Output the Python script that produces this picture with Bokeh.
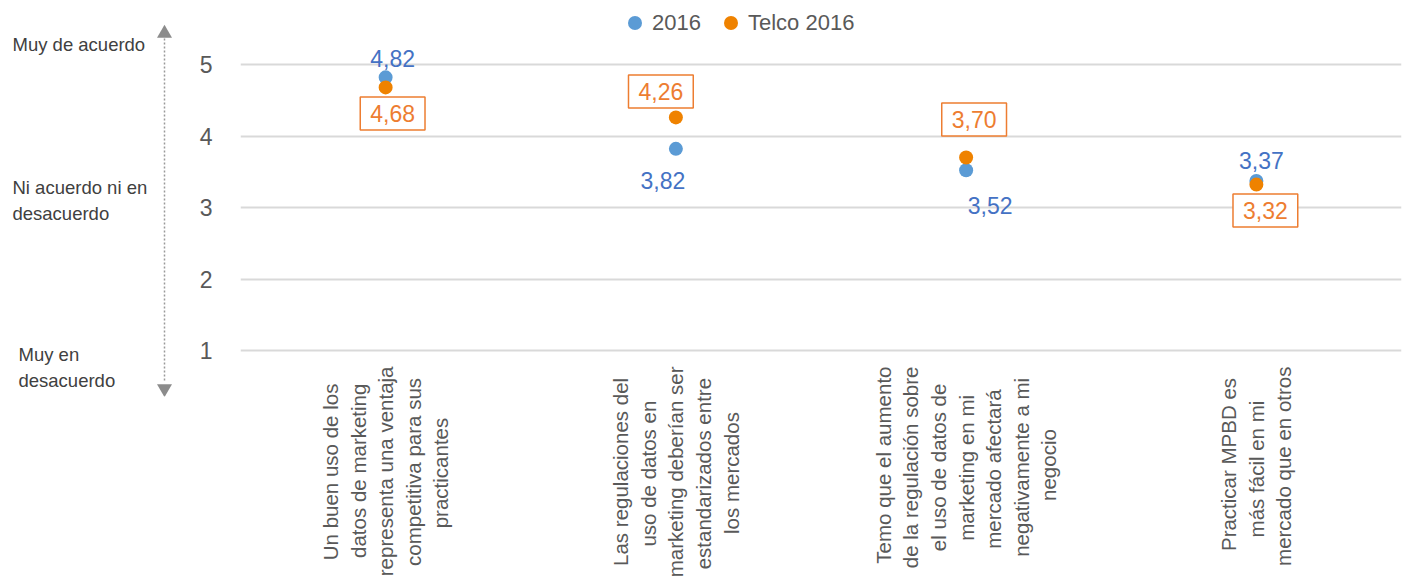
import math
from bokeh.plotting import figure
from bokeh.layouts import row
from bokeh.models import (FactorRange, Range1d, FixedTicker, Legend, LegendItem,
                          ColumnDataSource)
from bokeh.core.properties import value
from bokeh.embed import file_html
from bokeh.resources import INLINE

# ---------------- data ----------------
categories = [
    "Un buen uso de los\ndatos de marketing\nrepresenta una ventaja\ncompetitiva para sus\npracticantes",
    "Las regulaciones del\nuso de datos en\nmarketing deberían ser\nestandarizados entre\nlos mercados",
    "Temo que el aumento\nde la regulación sobre\nel uso de datos de\nmarketing en mi\nmercado afectará\nnegativamente a mi\nnegocio",
    "Practicar MPBD es\nmás fácil en mi\nmercado que en otros",
]
series_names = ["2016", "Telco 2016"]
values_2016 = [4.82, 3.82, 3.52, 3.37]
values_telco = [4.68, 4.26, 3.70, 3.32]
y_ticks = [1, 2, 3, 4, 5]
scale_texts = ["Muy de acuerdo", "Ni acuerdo ni en\ndesacuerdo", "Muy en\ndesacuerdo"]

# ---------------- styles ----------------
FONT = "Liberation Sans"
BLUE = "#5B9BD5"
BLUE_TXT = "#4472C4"
ORANGE = "#EF8200"
ORANGE_TXT = "#ED7D31"
GRAY = "#595959"

# label offsets (pixels, screen: +y is down)
off_2016_x = [7, -13, 24, 5]
off_2016_y = [-19, 32, 35, -21]
off_telco_x = [7, -15, 8, 9]
off_telco_y = [26, -26, -38, 26]

# positions of the left scale texts (page pixels)
scale_x = [12, 12, 18]
scale_y = [44, 200, 367]

H = 582
FRAME_H = 396          # frame bottom (page px)
AXIS_Y1 = 350          # page px of value 1
PX_PER_UNIT = 71.5

# Arial / Liberation Sans advance widths (1/1000 em) used to centre rotated lines
_W = {" ": 278, "a": 556, "b": 556, "c": 500, "d": 556, "e": 556, "f": 278, "g": 556,
      "h": 556, "i": 222, "j": 222, "k": 500, "l": 222, "m": 833, "n": 556, "o": 556,
      "p": 556, "q": 556, "r": 333, "s": 500, "t": 278, "u": 556, "v": 500, "w": 722,
      "x": 500, "y": 500, "z": 500, "á": 556, "é": 556, "í": 278, "ó": 556,
      "B": 667, "D": 722, "L": 556, "M": 833, "P": 667, "T": 611, "U": 722}


def _tw(s):
    return sum(_W.get(c, 556) for c in s)


def centre_lines(label):
    lines = label.split("\n")
    m = max(_tw(l) for l in lines)
    return "\n".join(l + "\u00a0" * round((m - _tw(l)) / 2 / 278) for l in lines)


factors = [centre_lines(c) for c in categories]


def fmt(v):
    return f"{v:.2f}".replace(".", ",")


src_2016 = ColumnDataSource(dict(x=factors, y=values_2016,
                                 lbl=[fmt(v) for v in values_2016],
                                 xo=off_2016_x, yo=off_2016_y))
src_telco = ColumnDataSource(dict(x=factors, y=values_telco,
                                  lbl=[fmt(v) for v in values_telco],
                                  xo=off_telco_x, yo=off_telco_y))

# ---------------- left panel: agreement scale ----------------
left = figure(width=180, height=H, x_range=Range1d(0, 180), y_range=Range1d(FRAME_H, 0),
              x_axis_type=None, y_axis_type=None, output_backend="svg",
              toolbar_location=None, min_border=0,
              min_border_bottom=H - FRAME_H)
left.outline_line_color = None
left.grid.visible = False
left.text(x=scale_x, y=scale_y, text=scale_texts, text_font=value(FONT),
          text_font_size="18.5px", text_color="#404040", text_align="left",
          text_baseline="middle", text_line_height=1.25)
left.segment(x0=[164], y0=[38], x1=[164], y1=[382], line_color="#9A9A9A",
             line_width=1.5, line_dash="2 2")
left.scatter(x=[164], y=[33], marker="triangle", size=15,
             fill_color="#8C8C8C", line_color=None)
left.scatter(x=[164], y=[388], marker="inverted_triangle", size=15,
             fill_color="#8C8C8C", line_color=None)

# ---------------- main chart ----------------
p = figure(x_range=FactorRange(*factors, range_padding=0),
           y_range=Range1d(1 - (FRAME_H - AXIS_Y1) / PX_PER_UNIT, 1 + AXIS_Y1 / PX_PER_UNIT),
           width=1227, height=H,
           output_backend="svg", toolbar_location=None,
           min_border_left=60, min_border_right=6,
           min_border_top=0, min_border_bottom=H - FRAME_H)
p.outline_line_color = None

p.yaxis.ticker = FixedTicker(ticks=y_ticks)
p.yaxis.axis_line_color = None
p.yaxis.major_tick_line_color = None
p.yaxis.minor_tick_line_color = None
p.yaxis.major_label_text_font = FONT
p.yaxis.major_label_text_font_size = "23px"
p.yaxis.major_label_text_color = GRAY
p.yaxis.major_label_standoff = 22

p.xaxis.axis_line_color = None
p.xaxis.major_tick_line_color = None
p.xaxis.minor_tick_line_color = None
p.xaxis.major_label_text_font = FONT
p.xaxis.major_label_text_font_size = "20.5px"
p.xaxis.major_label_text_color = GRAY
p.xaxis.major_label_orientation = math.pi / 2
p.xaxis.major_label_standoff = -36
p.xaxis.major_label_text_line_height = 1.2

p.xgrid.grid_line_color = None
p.ygrid.grid_line_color = "#D9D9D9"
p.ygrid.grid_line_width = 2

r1 = p.scatter(x="x", y="y", source=src_2016, size=14, fill_color=BLUE, line_color=None)
r2 = p.scatter(x="x", y="y", source=src_telco, size=14, fill_color=ORANGE, line_color=None)

p.text(x="x", y="y", text="lbl", source=src_2016, x_offset="xo", y_offset="yo",
       text_font=value(FONT), text_font_size="23px", text_color=BLUE_TXT,
       text_align="center", text_baseline="middle")
p.text(x="x", y="y", text="lbl", source=src_telco, x_offset="xo", y_offset="yo",
       text_font=value(FONT), text_font_size="23px", text_color=ORANGE_TXT,
       text_align="center", text_baseline="middle",
       background_fill_color="white", border_line_color=ORANGE_TXT,
       border_line_width=1.5, padding=(10, 8))

legend = Legend(items=[LegendItem(label=series_names[0], renderers=[r1]),
                       LegendItem(label=series_names[1], renderers=[r2])],
                orientation="horizontal", location=(377, FRAME_H - 40),
                border_line_color=None, background_fill_alpha=0,
                label_text_font=FONT, label_text_font_size="22px",
                label_text_color=GRAY, glyph_width=35, glyph_height=35,
                label_standoff=0, spacing=12, padding=2, margin=0)
p.add_layout(legend)

open("out.html", "w").write(file_html(row(left, p), INLINE))
